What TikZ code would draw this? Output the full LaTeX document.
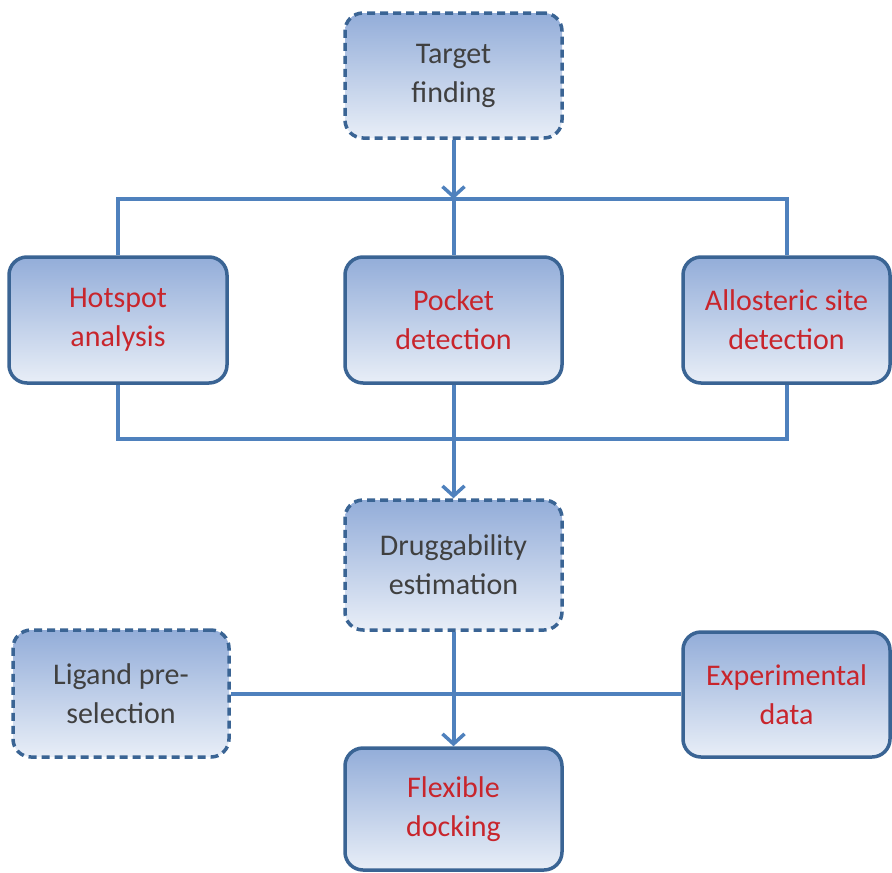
\documentclass[tikz,border=0pt]{standalone}
\usepackage{fontspec}
\setmainfont{Carlito}
\usetikzlibrary{arrows.meta}
\definecolor{bordc}{HTML}{3A6494}
\definecolor{linec}{HTML}{4F81BD}
\definecolor{topc}{HTML}{93ADD9}
\definecolor{botc}{HTML}{E8EEF7}
\definecolor{redt}{HTML}{C8252C}
\definecolor{darkt}{HTML}{404040}
\tikzset{
  boxbase/.style={rectangle, rounded corners=18pt, line width=3.5pt, draw=bordc,
    top color=topc, bottom color=botc, align=center, inner sep=0pt,
    font=\fontsize{30}{39}\selectfont},
  solidbox/.style={boxbase, text=redt},
  dashbox/.style={boxbase, text=darkt, dash pattern=on 8pt off 5pt},
  conn/.style={draw=linec, line width=4pt},
  arr/.style={conn, -{Straight Barb[length=10pt,width=22pt,line width=3.5pt]}},
}
\begin{document}
\begin{tikzpicture}[x=1pt,y=-1pt]
\useasboundingbox (0,0) rectangle (892,873);
\node[dashbox, minimum width=217pt, minimum height=125pt] (target) at (453.5,75.5) {Target\\finding};
\node[solidbox, minimum width=218pt, minimum height=126pt] (hot) at (118,320) {Hotspot\\analysis};
\node[solidbox, minimum width=217pt, minimum height=126pt] (pocket) at (453.5,320) {Pocket\\detection};
\node[solidbox, minimum width=207pt, minimum height=126pt] (allo) at (786.5,320) {Allosteric site\\detection};
\node[dashbox, minimum width=217pt, minimum height=130pt] (drug) at (453.5,565) {Druggability\\estimation};
\node[dashbox, minimum width=216pt, minimum height=127pt] (lig) at (121,693.5) {Ligand pre-\\selection};
\node[solidbox, minimum width=207pt, minimum height=125pt] (exp) at (786.5,694.5) {Experimental\\data};
\node[solidbox, minimum width=217pt, minimum height=122pt] (flex) at (453.5,809) {Flexible\\docking};
\coordinate (u) at (453.5,199);
\coordinate (l) at (453.5,439);
\draw[conn] (hot.north) |- (u) -| (allo.north);
\draw[conn] (u) -- (pocket.north);
\draw[arr] (target.south) -- (u);
\draw[conn] (hot.south) |- (l) -| (allo.south);
\draw[conn] (pocket.south) -- (l);
\draw[arr] (l) -- (drug.north);
\draw[conn] (lig.east) -- (lig.east -| exp.west);
\draw[arr] (drug.south) -- (flex.north);
\end{tikzpicture}
\end{document}
